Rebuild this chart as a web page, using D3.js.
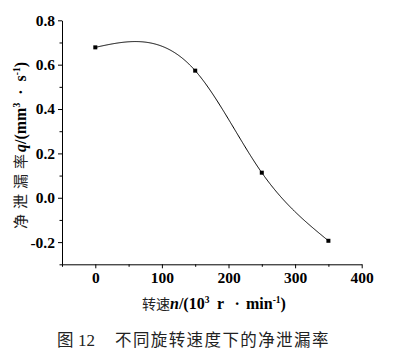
<!DOCTYPE html>
<html><head><meta charset="utf-8">
<script src="https://cdn.jsdelivr.net/npm/d3@7"></script>
<style>
body{margin:0;background:#fff;}
svg{display:block;}
.tick text{font-family:"Liberation Serif","Times New Roman",serif;font-weight:bold;font-size:15.5px;fill:#000;}
</style></head>
<body>
<svg id="c" width="403" height="351"></svg>
<script>
const speeds = [0, 150, 250, 350];
const leakRates = [0.678, 0.573, 0.113, -0.194];
const xTicks = [0, 100, 200, 300, 400];
const xMinorTicks = [-50, 50, 150, 250, 350];
const yTicks = [-0.2, 0.0, 0.2, 0.4, 0.6, 0.8];
const yMinorTicks = [-0.3, -0.1, 0.1, 0.3, 0.5, 0.7];

const svg = d3.select("#c");
const x = d3.scaleLinear().domain([-50, 400]).range([62, 361.7]);
const y = d3.scaleLinear().domain([-0.3, 0.8]).range([264.3, 20.3]);

// natural cubic spline y(x) through the data points (Origin-style "Spline" connection)
function naturalSpline(xs, ys) {
  const n = xs.length, h = [], M = new Array(n).fill(0);
  for (let i = 0; i < n - 1; i++) h.push(xs[i+1] - xs[i]);
  const a = [], b = [], c = [], r = [];
  for (let i = 1; i < n - 1; i++) {
    a.push(h[i-1]); b.push(2*(h[i-1]+h[i])); c.push(h[i]);
    r.push(6*((ys[i+1]-ys[i])/h[i] - (ys[i]-ys[i-1])/h[i-1]));
  }
  const m = r.length;
  for (let i = 1; i < m; i++) { const w = a[i]/b[i-1]; b[i] -= w*c[i-1]; r[i] -= w*r[i-1]; }
  const sol = new Array(m);
  for (let i = m - 1; i >= 0; i--) sol[i] = (r[i] - (i < m-1 ? c[i]*sol[i+1] : 0)) / b[i];
  for (let i = 0; i < m; i++) M[i+1] = sol[i];
  return function(t) {
    let i = 0; while (i < n - 2 && t > xs[i+1]) i++;
    const hi = h[i], A = (xs[i+1]-t)/hi, B = (t-xs[i])/hi;
    return A*ys[i] + B*ys[i+1] + ((A*A*A-A)*M[i] + (B*B*B-B)*M[i+1])*hi*hi/6;
  };
}
const f = naturalSpline(speeds, leakRates);
const curvePts = d3.range(speeds[0], speeds[speeds.length-1] + 0.5, 1).map(t => [t, f(t)]);

// minor ticks
svg.append("g").attr("transform","translate(0,264.3)")
  .call(d3.axisBottom(x).tickValues(xMinorTicks).tickSize(2.5).tickFormat(""))
  .call(g=>g.select(".domain").remove());
svg.append("g").attr("transform","translate(62,0)")
  .call(d3.axisLeft(y).tickValues(yMinorTicks).tickSize(2.5).tickFormat(""))
  .call(g=>g.select(".domain").remove());

svg.append("g").attr("transform","translate(0,264.3)")
  .call(d3.axisBottom(x).tickValues(xTicks).tickSize(4).tickPadding(4).tickSizeOuter(0).tickFormat(d3.format("d")));
svg.append("g").attr("transform","translate(62,0)")
  .call(d3.axisLeft(y).tickValues(yTicks).tickSize(4).tickPadding(3).tickSizeOuter(0)
    .tickFormat(d=>d3.format(".1f")(d).replace("−","-")));
svg.selectAll(".domain, .tick line").attr("stroke","#000").attr("stroke-width",1);

svg.append("path").datum(curvePts)
  .attr("fill","none").attr("stroke","#000").attr("stroke-width",1)
  .attr("d", d3.line().x(d=>x(d[0])).y(d=>y(d[1])));
const pts = speeds.map((s,i)=>[s, leakRates[i]]);
svg.selectAll("rect.pt").data(pts).join("rect").attr("class","pt")
  .attr("x",d=>x(d[0])-2).attr("y",d=>y(d[1])-2).attr("width",4).attr("height",4).attr("fill","#000");

const serif = "'Liberation Serif','Times New Roman',serif";
const cjk = "'Noto Sans CJK SC','Noto Sans CJK JP',sans-serif";

// y label
const yl = svg.append("text").attr("transform","translate(26,229) rotate(-90)")
  .attr("text-anchor","start").attr("font-size",16).attr("fill","#000");
yl.append("tspan").attr("font-family",cjk).attr("font-size",15).attr("fill","#222").attr("letter-spacing",5).text("净泄漏率");
yl.append("tspan").attr("font-family",serif).attr("font-weight","bold").attr("font-style","italic").attr("dx",-3).text("q");
yl.append("tspan").attr("font-family",serif).attr("font-weight","bold").text("/(mm");
yl.append("tspan").attr("font-family",serif).attr("font-weight","bold").attr("font-size",9.5).attr("dy",-6).text("3");
yl.append("tspan").attr("font-family",serif).attr("font-weight","bold").attr("dy",6).text("\u2002·\u2002s");
yl.append("tspan").attr("font-family",serif).attr("font-weight","bold").attr("font-size",9.5).attr("dy",-6).text("-1");
yl.append("tspan").attr("font-family",serif).attr("font-weight","bold").attr("dy",6).text(")");

// x label
const xl = svg.append("text").attr("x",142).attr("y",309)
  .attr("text-anchor","start").attr("font-size",16).attr("fill","#000");
xl.append("tspan").attr("font-family",cjk).attr("font-size",14).attr("fill","#222").text("转速");
xl.append("tspan").attr("font-family",serif).attr("font-weight","bold").attr("font-style","italic").attr("x",170).text("n");
xl.append("tspan").attr("font-family",serif).attr("font-weight","bold").text("/(10");
xl.append("tspan").attr("font-family",serif).attr("font-weight","bold").attr("font-size",9.5).attr("dy",-6).text("3");
xl.append("tspan").attr("font-family",serif).attr("font-weight","bold").attr("dy",6).attr("x",217).text("r");
xl.append("tspan").attr("font-family",serif).attr("font-weight","bold").attr("x",234.5).text("·");
xl.append("tspan").attr("font-family",serif).attr("font-weight","bold").attr("x",246).text("min");
xl.append("tspan").attr("font-family",serif).attr("font-weight","bold").attr("font-size",9.5).attr("dy",-6).text("-1");
xl.append("tspan").attr("font-family",serif).attr("font-weight","bold").attr("dy",6).text(")");

// caption
svg.append("text").attr("x",57).attr("y",346).attr("font-size",16.5)
  .attr("font-family",cjk).attr("fill","#222").text("图");
svg.append("text").attr("x",78).attr("y",346).attr("font-size",17)
  .attr("font-family",serif).attr("fill","#222").text("12");
svg.append("text").attr("x",115).attr("y",346).attr("font-size",16.5).attr("letter-spacing",1.4)
  .attr("font-family",cjk).attr("fill","#222").text("不同旋转速度下的净泄漏率");
</script>
</body></html>
